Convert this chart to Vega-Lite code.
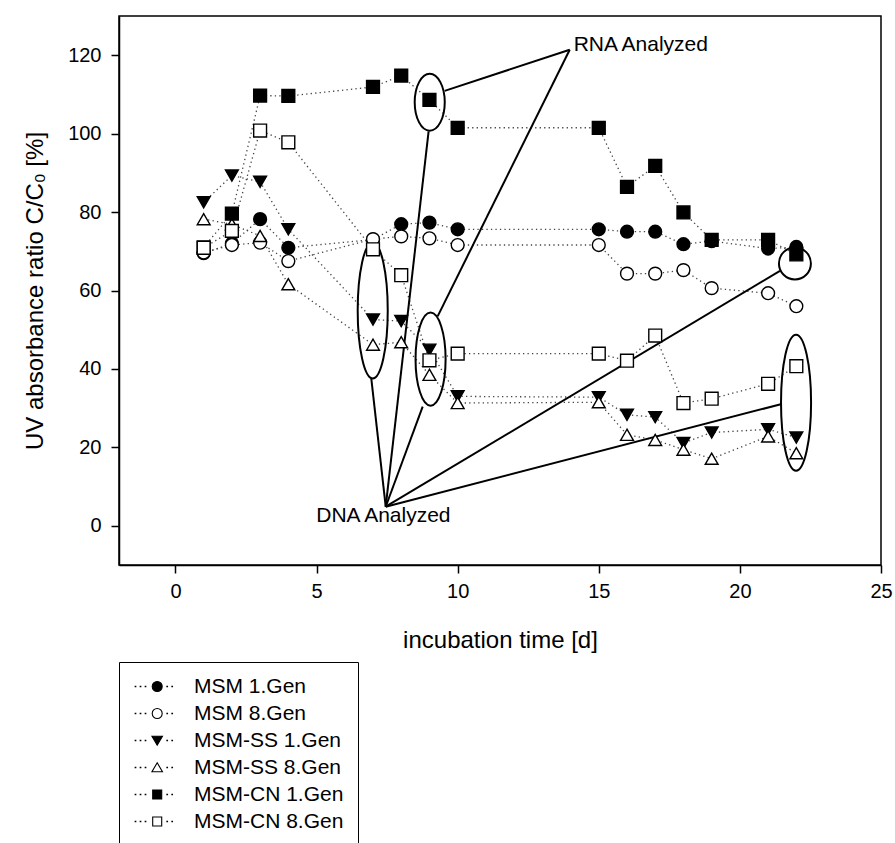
{
  "$schema": "https://vega.github.io/schema/vega-lite/v6.json",
  "autosize": {"type": "none"},
  "width": 762,
  "height": 549,
  "padding": {"left": 119, "top": 16, "right": 14, "bottom": 278},
  "background": "white",
  "config": {
    "font": "Liberation Sans",
    "view": {"stroke": "black", "strokeWidth": 1.5},
    "axis": {"grid": false, "domainColor": "black", "domainWidth": 1.5, "tickColor": "black", "tickWidth": 1.5, "tickSize": 8, "labelFontSize": 20, "labelColor": "black", "labelFont": "Liberation Sans", "titleFont": "Liberation Sans", "titleFontSize": 24, "titleFontWeight": "normal", "titleColor": "black", "labelFlush": false, "labelPadding": 8},
    "legend": {"strokeColor": "black", "fillColor": "white", "padding": 14, "labelFontSize": 21, "labelFont": "Liberation Sans", "labelColor": "black", "symbolSize": 100, "symbolStrokeWidth": 1.1, "labelOffset": 40, "rowPadding": 5}
  },
  "datasets": {
    "points": [
      {"series": "MSM 1.Gen", "day": 1, "value": 69.5},
      {"series": "MSM 1.Gen", "day": 2, "value": 72},
      {"series": "MSM 1.Gen", "day": 3, "value": 78.2},
      {"series": "MSM 1.Gen", "day": 4, "value": 70.9},
      {"series": "MSM 1.Gen", "day": 7, "value": 73},
      {"series": "MSM 1.Gen", "day": 8, "value": 76.9},
      {"series": "MSM 1.Gen", "day": 9, "value": 77.3},
      {"series": "MSM 1.Gen", "day": 10, "value": 75.6},
      {"series": "MSM 1.Gen", "day": 15, "value": 75.6},
      {"series": "MSM 1.Gen", "day": 16, "value": 75.0},
      {"series": "MSM 1.Gen", "day": 17, "value": 75.0},
      {"series": "MSM 1.Gen", "day": 18, "value": 71.8},
      {"series": "MSM 1.Gen", "day": 19, "value": 72.6},
      {"series": "MSM 1.Gen", "day": 21, "value": 70.7},
      {"series": "MSM 1.Gen", "day": 22, "value": 71.1},
      {"series": "MSM 8.Gen", "day": 1, "value": 69.7},
      {"series": "MSM 8.Gen", "day": 2, "value": 71.6},
      {"series": "MSM 8.Gen", "day": 3, "value": 72.2},
      {"series": "MSM 8.Gen", "day": 4, "value": 67.5},
      {"series": "MSM 8.Gen", "day": 7, "value": 73.1},
      {"series": "MSM 8.Gen", "day": 8, "value": 73.8},
      {"series": "MSM 8.Gen", "day": 9, "value": 73.3},
      {"series": "MSM 8.Gen", "day": 10, "value": 71.6},
      {"series": "MSM 8.Gen", "day": 15, "value": 71.6},
      {"series": "MSM 8.Gen", "day": 16, "value": 64.3},
      {"series": "MSM 8.Gen", "day": 17, "value": 64.3},
      {"series": "MSM 8.Gen", "day": 18, "value": 65.2},
      {"series": "MSM 8.Gen", "day": 19, "value": 60.6},
      {"series": "MSM 8.Gen", "day": 21, "value": 59.3},
      {"series": "MSM 8.Gen", "day": 22, "value": 56.0},
      {"series": "MSM-SS 1.Gen", "day": 1, "value": 82.5},
      {"series": "MSM-SS 1.Gen", "day": 2, "value": 89.3},
      {"series": "MSM-SS 1.Gen", "day": 3, "value": 87.7},
      {"series": "MSM-SS 1.Gen", "day": 4, "value": 75.6},
      {"series": "MSM-SS 1.Gen", "day": 7, "value": 52.6},
      {"series": "MSM-SS 1.Gen", "day": 8, "value": 52.2},
      {"series": "MSM-SS 1.Gen", "day": 9, "value": 44.9},
      {"series": "MSM-SS 1.Gen", "day": 10, "value": 33.0},
      {"series": "MSM-SS 1.Gen", "day": 15, "value": 32.8},
      {"series": "MSM-SS 1.Gen", "day": 16, "value": 28.3},
      {"series": "MSM-SS 1.Gen", "day": 17, "value": 27.7},
      {"series": "MSM-SS 1.Gen", "day": 18, "value": 21.1},
      {"series": "MSM-SS 1.Gen", "day": 19, "value": 23.8},
      {"series": "MSM-SS 1.Gen", "day": 21, "value": 24.6},
      {"series": "MSM-SS 1.Gen", "day": 22, "value": 22.5},
      {"series": "MSM-SS 8.Gen", "day": 1, "value": 78.2},
      {"series": "MSM-SS 8.Gen", "day": 2, "value": 76.9},
      {"series": "MSM-SS 8.Gen", "day": 3, "value": 73.9},
      {"series": "MSM-SS 8.Gen", "day": 4, "value": 61.6},
      {"series": "MSM-SS 8.Gen", "day": 7, "value": 46.2},
      {"series": "MSM-SS 8.Gen", "day": 8, "value": 46.8},
      {"series": "MSM-SS 8.Gen", "day": 9, "value": 38.5},
      {"series": "MSM-SS 8.Gen", "day": 10, "value": 31.3},
      {"series": "MSM-SS 8.Gen", "day": 15, "value": 31.5},
      {"series": "MSM-SS 8.Gen", "day": 16, "value": 23.2},
      {"series": "MSM-SS 8.Gen", "day": 17, "value": 21.9},
      {"series": "MSM-SS 8.Gen", "day": 18, "value": 19.4},
      {"series": "MSM-SS 8.Gen", "day": 19, "value": 17.1},
      {"series": "MSM-SS 8.Gen", "day": 21, "value": 22.8},
      {"series": "MSM-SS 8.Gen", "day": 22, "value": 18.5},
      {"series": "MSM-CN 1.Gen", "day": 1, "value": 71.0},
      {"series": "MSM-CN 1.Gen", "day": 2, "value": 79.6},
      {"series": "MSM-CN 1.Gen", "day": 3, "value": 109.7},
      {"series": "MSM-CN 1.Gen", "day": 4, "value": 109.6},
      {"series": "MSM-CN 1.Gen", "day": 7, "value": 111.9},
      {"series": "MSM-CN 1.Gen", "day": 8, "value": 114.8},
      {"series": "MSM-CN 1.Gen", "day": 9, "value": 108.6},
      {"series": "MSM-CN 1.Gen", "day": 10, "value": 101.5},
      {"series": "MSM-CN 1.Gen", "day": 15, "value": 101.5},
      {"series": "MSM-CN 1.Gen", "day": 16, "value": 86.4},
      {"series": "MSM-CN 1.Gen", "day": 17, "value": 91.8},
      {"series": "MSM-CN 1.Gen", "day": 18, "value": 79.9},
      {"series": "MSM-CN 1.Gen", "day": 19, "value": 72.9},
      {"series": "MSM-CN 1.Gen", "day": 21, "value": 72.9},
      {"series": "MSM-CN 1.Gen", "day": 22, "value": 69.2},
      {"series": "MSM-CN 8.Gen", "day": 1, "value": 70.9},
      {"series": "MSM-CN 8.Gen", "day": 2, "value": 75.2},
      {"series": "MSM-CN 8.Gen", "day": 3, "value": 100.8},
      {"series": "MSM-CN 8.Gen", "day": 4, "value": 97.8},
      {"series": "MSM-CN 8.Gen", "day": 7, "value": 70.5},
      {"series": "MSM-CN 8.Gen", "day": 8, "value": 63.9},
      {"series": "MSM-CN 8.Gen", "day": 9, "value": 42.2},
      {"series": "MSM-CN 8.Gen", "day": 10, "value": 43.9},
      {"series": "MSM-CN 8.Gen", "day": 15, "value": 43.9},
      {"series": "MSM-CN 8.Gen", "day": 16, "value": 42.1},
      {"series": "MSM-CN 8.Gen", "day": 17, "value": 48.5},
      {"series": "MSM-CN 8.Gen", "day": 18, "value": 31.3},
      {"series": "MSM-CN 8.Gen", "day": 19, "value": 32.4},
      {"series": "MSM-CN 8.Gen", "day": 21, "value": 36.2},
      {"series": "MSM-CN 8.Gen", "day": 22, "value": 40.7}
    ],
    "pointers": [
      {"group": "RNA", "x": 13.97, "y": 121.4, "x2": 9.54, "y2": 110.9},
      {"group": "RNA", "x": 13.97, "y": 121.4, "x2": 9.29, "y2": 53.4},
      {"group": "DNA", "x": 7.45, "y": 4.86, "x2": 6.94, "y2": 37.5},
      {"group": "DNA", "x": 7.45, "y": 4.86, "x2": 8.97, "y2": 100.6},
      {"group": "DNA", "x": 7.45, "y": 4.86, "x2": 8.76, "y2": 30.4},
      {"group": "DNA", "x": 7.45, "y": 4.86, "x2": 21.42, "y2": 65.0},
      {"group": "DNA", "x": 7.45, "y": 4.86, "x2": 21.45, "y2": 31.0}
    ],
    "ellipses": [
      {"id": "E1", "day": 9.01, "value": 108.0},
      {"id": "E2", "day": 6.99, "value": 54.9},
      {"id": "E3", "day": 9.04, "value": 42.5},
      {"id": "E4", "day": 21.95, "value": 66.9},
      {"id": "E5", "day": 21.99, "value": 31.4}
    ],
    "notes": [
      {"text": "RNA Analyzed", "day": 14.11, "value": 122.6},
      {"text": "DNA Analyzed", "day": 4.99, "value": 2.6}
    ]
  },
  "resolve": {"scale": {"shape": "independent", "fill": "independent"}, "legend": {"shape": "independent", "fill": "independent"}},
  "layer": [
    {
      "data": {"name": "points"},
      "mark": {"type": "line", "stroke": "#444444", "strokeWidth": 1.3, "strokeDash": [1.3, 3.2]},
      "encoding": {
        "x": {"field": "day", "type": "quantitative", "scale": {"domain": [-2, 25], "nice": false, "zero": false},
          "axis": {"title": "incubation time [d]", "values": [0, 5, 10, 15, 20, 25], "titlePadding": 27}},
        "y": {"field": "value", "type": "quantitative", "scale": {"domain": [-10, 130], "nice": false, "zero": false},
          "axis": {"title": "UV absorbance ratio C/C₀ [%]", "values": [0, 20, 40, 60, 80, 100, 120], "labelPadding": 10, "titlePadding": 20}},
        "detail": {"field": "series", "type": "nominal"},
        "order": {"field": "day", "type": "quantitative"}
      }
    },
    {
      "data": {"name": "pointers"},
      "mark": {"type": "rule", "stroke": "black", "strokeWidth": 2},
      "encoding": {
        "x": {"field": "x", "type": "quantitative"},
        "y": {"field": "y", "type": "quantitative"},
        "x2": {"field": "x2"},
        "y2": {"field": "y2"}
      }
    },
    {
      "data": {"name": "ellipses"},
      "mark": {"type": "point", "filled": false, "stroke": "black", "strokeWidth": 2, "size": 18496, "opacity": 1},
      "encoding": {
        "x": {"field": "day", "type": "quantitative"},
        "y": {"field": "value", "type": "quantitative"},
        "shape": {"field": "id", "type": "nominal", "legend": null,
          "scale": {"domain": ["E1", "E2", "E3", "E4", "E5"],
            "range": [
              "M 0.221,0 C 0.221,0.231 0.122,0.419 0,0.419 C -0.122,0.419 -0.221,0.231 -0.221,0 C -0.221,-0.231 -0.122,-0.419 0,-0.419 C 0.122,-0.419 0.221,-0.231 0.221,0 Z",
              "M 0.221,0 C 0.221,0.552 0.122,1 0,1 C -0.122,1 -0.221,0.552 -0.221,0 C -0.221,-0.552 -0.122,-1 0,-1 C 0.122,-1 0.221,-0.552 0.221,0 Z",
              "M 0.221,0 C 0.221,0.378 0.122,0.684 0,0.684 C -0.122,0.684 -0.221,0.378 -0.221,0 C -0.221,-0.378 -0.122,-0.684 0,-0.684 C 0.122,-0.684 0.221,-0.378 0.221,0 Z",
              "M 0.235,0 C 0.235,0.13 0.13,0.235 0,0.235 C -0.13,0.235 -0.235,0.13 -0.235,0 C -0.235,-0.13 -0.13,-0.235 0,-0.235 C 0.13,-0.235 0.235,-0.13 0.235,0 Z",
              "M 0.221,0 C 0.221,0.552 0.122,1 0,1 C -0.122,1 -0.221,0.552 -0.221,0 C -0.221,-0.552 -0.122,-1 0,-1 C 0.122,-1 0.221,-0.552 0.221,0 Z"
            ]}}
      }
    },
    {
      "data": {"name": "points"},
      "mark": {"type": "point", "filled": true, "stroke": "black", "strokeWidth": 1.4, "size": 165, "opacity": 1},
      "encoding": {
        "x": {"field": "day", "type": "quantitative"},
        "y": {"field": "value", "type": "quantitative"},
        "shape": {"field": "series", "type": "nominal", "legend": null,
          "scale": {"domain": ["MSM 1.Gen", "MSM 8.Gen", "MSM-SS 1.Gen", "MSM-SS 8.Gen", "MSM-CN 1.Gen", "MSM-CN 8.Gen"],
            "range": ["circle", "circle", "triangle-down", "triangle-up", "square", "square"]}},
        "fill": {"field": "series", "type": "nominal", "legend": null,
          "scale": {"domain": ["MSM 1.Gen", "MSM 8.Gen", "MSM-SS 1.Gen", "MSM-SS 8.Gen", "MSM-CN 1.Gen", "MSM-CN 8.Gen"],
            "range": ["black", "white", "black", "white", "black", "white"]}}
      }
    },
    {
      "data": {"name": "points"},
      "transform": [{"filter": "false"}],
      "mark": {"type": "point", "filled": true, "stroke": "black", "strokeWidth": 1.1, "size": 100, "opacity": 1},
      "encoding": {
        "x": {"field": "day", "type": "quantitative"},
        "y": {"field": "value", "type": "quantitative"},
        "fill": {"field": "series", "type": "nominal",
          "scale": {"domain": ["MSM 1.Gen", "MSM 8.Gen", "MSM-SS 1.Gen", "MSM-SS 8.Gen", "MSM-CN 1.Gen", "MSM-CN 8.Gen"],
            "range": ["black", "white", "black", "white", "black", "white"]},
          "legend": {"title": null, "orient": "none", "legendX": 0, "legendY": 646}},
        "shape": {"field": "series", "type": "nominal",
          "scale": {"domain": ["MSM 1.Gen", "MSM 8.Gen", "MSM-SS 1.Gen", "MSM-SS 8.Gen", "MSM-CN 1.Gen", "MSM-CN 8.Gen"],
            "range": [
              "M -1.66,-0.06 h 0.12 v 0.12 h -0.12 Z M -0.66,-0.06 h 0.12 v 0.12 h -0.12 Z M 0.34,-0.06 h 0.12 v 0.12 h -0.12 Z M 3.74,0 C 3.74,0.552 3.292,1 2.74,1 C 2.188,1 1.74,0.552 1.74,0 C 1.74,-0.552 2.188,-1 2.74,-1 C 3.292,-1 3.74,-0.552 3.74,0 Z M 4.68,-0.06 h 0.12 v 0.12 h -0.12 Z M 5.68,-0.06 h 0.12 v 0.12 h -0.12 Z",
              "M -1.66,-0.06 h 0.12 v 0.12 h -0.12 Z M -0.66,-0.06 h 0.12 v 0.12 h -0.12 Z M 0.34,-0.06 h 0.12 v 0.12 h -0.12 Z M 3.74,0 C 3.74,0.552 3.292,1 2.74,1 C 2.188,1 1.74,0.552 1.74,0 C 1.74,-0.552 2.188,-1 2.74,-1 C 3.292,-1 3.74,-0.552 3.74,0 Z M 4.68,-0.06 h 0.12 v 0.12 h -0.12 Z M 5.68,-0.06 h 0.12 v 0.12 h -0.12 Z",
              "M -1.66,-0.06 h 0.12 v 0.12 h -0.12 Z M -0.66,-0.06 h 0.12 v 0.12 h -0.12 Z M 0.34,-0.06 h 0.12 v 0.12 h -0.12 Z M 1.69,-0.85 L 3.79,-0.85 L 2.74,0.95 Z M 4.68,-0.06 h 0.12 v 0.12 h -0.12 Z M 5.68,-0.06 h 0.12 v 0.12 h -0.12 Z",
              "M -1.66,-0.06 h 0.12 v 0.12 h -0.12 Z M -0.66,-0.06 h 0.12 v 0.12 h -0.12 Z M 0.34,-0.06 h 0.12 v 0.12 h -0.12 Z M 2.74,-0.95 L 3.79,0.85 L 1.69,0.85 Z M 4.68,-0.06 h 0.12 v 0.12 h -0.12 Z M 5.68,-0.06 h 0.12 v 0.12 h -0.12 Z",
              "M -1.66,-0.06 h 0.12 v 0.12 h -0.12 Z M -0.66,-0.06 h 0.12 v 0.12 h -0.12 Z M 0.34,-0.06 h 0.12 v 0.12 h -0.12 Z M 1.84,-0.9 L 3.64,-0.9 L 3.64,0.9 L 1.84,0.9 Z M 4.68,-0.06 h 0.12 v 0.12 h -0.12 Z M 5.68,-0.06 h 0.12 v 0.12 h -0.12 Z",
              "M -1.66,-0.06 h 0.12 v 0.12 h -0.12 Z M -0.66,-0.06 h 0.12 v 0.12 h -0.12 Z M 0.34,-0.06 h 0.12 v 0.12 h -0.12 Z M 1.84,-0.9 L 3.64,-0.9 L 3.64,0.9 L 1.84,0.9 Z M 4.68,-0.06 h 0.12 v 0.12 h -0.12 Z M 5.68,-0.06 h 0.12 v 0.12 h -0.12 Z"
            ]},
          "legend": {"title": null, "orient": "none", "legendX": 0, "legendY": 646}}
      }
    },
    {
      "data": {"name": "notes"},
      "mark": {"type": "text", "align": "left", "baseline": "middle", "fontSize": 21, "font": "Liberation Sans", "color": "black"},
      "encoding": {
        "x": {"field": "day", "type": "quantitative"},
        "y": {"field": "value", "type": "quantitative"},
        "text": {"field": "text"}
      }
    }
  ]
}
